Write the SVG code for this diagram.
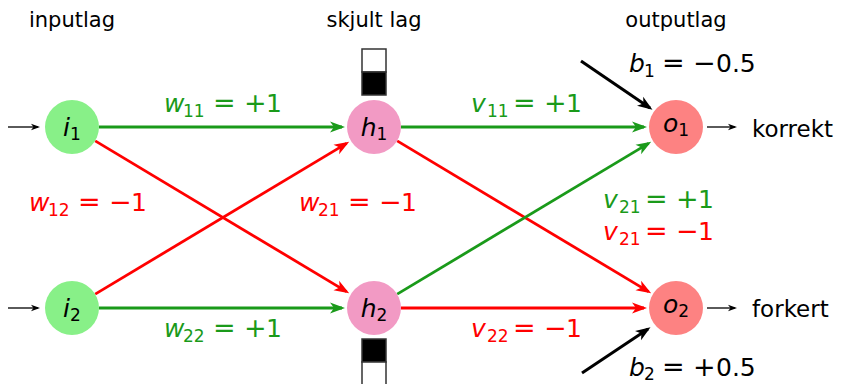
<svg xmlns="http://www.w3.org/2000/svg" width="841" height="384" viewBox="0 0 841 384">
<style>
text{font-family:"DejaVu Sans",sans-serif;fill:#000}
.hdr{font-size:21px}
.out{font-size:23px}
.m{font-size:25px}
.v{font-style:italic}
.s{font-size:17px}
.o{font-size:27px}
.g{fill:#1a9a1a}
.r{fill:#ff0000}
.eg{stroke:#1a9a1a;stroke-width:2.8;fill:none}
.er{stroke:#ff0000;stroke-width:2.8;fill:none}
.eb{stroke:#000;stroke-width:3;fill:none}
.et{stroke:#000;stroke-width:1.3;fill:none}
.in{fill:#88f088}
.hid{fill:#f29ac4}
.op{fill:#fd8282}
</style>
<defs>
<marker id="ag" markerUnits="userSpaceOnUse" markerWidth="16" markerHeight="12" refX="12" refY="6" orient="auto"><path d="M0,0.5 L15,6 L0,11.5 L4,6 z" fill="#1a9a1a"/></marker>
<marker id="ar" markerUnits="userSpaceOnUse" markerWidth="16" markerHeight="12" refX="12" refY="6" orient="auto"><path d="M0,0.5 L15,6 L0,11.5 L4,6 z" fill="#ff0000"/></marker>
<marker id="ab" markerUnits="userSpaceOnUse" markerWidth="16" markerHeight="12" refX="12" refY="6" orient="auto"><path d="M0,0.5 L15,6 L0,11.5 L4,6 z" fill="#000"/></marker>
<marker id="at" markerUnits="userSpaceOnUse" markerWidth="9" markerHeight="8" refX="7" refY="4" orient="auto"><path d="M0,0.8 L9,4 L0,7.2 L2.5,4 z" fill="#000"/></marker>
</defs>

<text class="hdr" x="72" y="27" text-anchor="middle">inputlag</text>
<text class="hdr" x="374" y="27" text-anchor="middle">skjult lag</text>
<text class="hdr" x="676" y="27" text-anchor="middle">outputlag</text>

<g id="connectors">
<path class="et" d="M8,127 H38" marker-end="url(#at)"/>
<path class="et" d="M8,308 H38" marker-end="url(#at)"/>
<path class="et" d="M707,127 H735" marker-end="url(#at)"/>
<path class="et" d="M707,308 H735" marker-end="url(#at)"/>
<path class="eg" d="M99,127 H342" marker-end="url(#ag)"/>
<path class="er" d="M95.2,140.9 L346.6,291.6" marker-end="url(#ar)"/>
<path class="er" d="M95.2,294.1 L346.6,143.4" marker-end="url(#ar)"/>
<path class="eg" d="M99,308 H342" marker-end="url(#ag)"/>
<path class="eg" d="M401,127 H644" marker-end="url(#ag)"/>
<path class="er" d="M397.2,140.9 L648.6,291.6" marker-end="url(#ar)"/>
<path class="eg" d="M397.2,294.1 L648.6,143.4" marker-end="url(#ag)"/>
<path class="er" d="M401,308 H644" marker-end="url(#ar)"/>
<path class="eb" d="M581,61 L650,108" marker-end="url(#ab)"/>
<path class="eb" d="M582,373 L648,329" marker-end="url(#ab)"/>
</g>

<g id="bar1">
<rect x="362" y="49" width="24" height="23" fill="#fff" stroke="#333" stroke-width="1.5"/>
<rect x="362" y="72" width="24" height="23" fill="#000" stroke="#333" stroke-width="1.5"/>
</g>
<g id="bar2">
<rect x="362" y="339" width="24" height="23" fill="#000" stroke="#333" stroke-width="1.5"/>
<rect x="362" y="362" width="24" height="24" fill="#fff" stroke="#333" stroke-width="1.5"/>
</g>

<g id="i1"><circle class="in" cx="72" cy="127" r="27"/><text class="m" x="72" y="136" text-anchor="middle"><tspan class="v">i</tspan><tspan class="s" dy="4">1</tspan></text></g>
<g id="i2"><circle class="in" cx="72" cy="308" r="27"/><text class="m" x="72" y="317" text-anchor="middle"><tspan class="v">i</tspan><tspan class="s" dy="4">2</tspan></text></g>
<g id="h1"><circle class="hid" cx="374" cy="127" r="27"/><text class="m" x="374" y="136" text-anchor="middle"><tspan class="v">h</tspan><tspan class="s" dy="4">1</tspan></text></g>
<g id="h2"><circle class="hid" cx="374" cy="308" r="27"/><text class="m" x="374" y="317" text-anchor="middle"><tspan class="v">h</tspan><tspan class="s" dy="4">2</tspan></text></g>
<g id="o1"><circle class="op" cx="676" cy="127" r="27"/><text class="m" x="676" y="132" text-anchor="middle"><tspan class="v">o</tspan><tspan class="s" dy="4">1</tspan></text></g>
<g id="o2"><circle class="op" cx="676" cy="308" r="27"/><text class="m" x="676" y="313" text-anchor="middle"><tspan class="v">o</tspan><tspan class="s" dy="4">2</tspan></text></g>

<text class="out" x="752" y="137">korrekt</text>
<text class="out" x="752" y="317">forkert</text>

<g id="labels">
<text class="m g" y="112"><tspan class="v" x="164">w</tspan><tspan class="s" x="183" dy="5">11</tspan><tspan class="o" x="213" dy="-5">=</tspan><tspan class="o" x="244">+</tspan><tspan x="266">1</tspan></text>
<text class="m g" y="112"><tspan class="v" x="471">v</tspan><tspan class="s" x="487" dy="5">11</tspan><tspan class="o" x="513" dy="-5">=</tspan><tspan class="o" x="544">+</tspan><tspan x="566">1</tspan></text>
<text class="m r" y="211"><tspan class="v" x="29">w</tspan><tspan class="s" x="48" dy="5">12</tspan><tspan class="o" x="78" dy="-5">=</tspan><tspan class="o" x="109">−</tspan><tspan x="131">1</tspan></text>
<text class="m r" y="211"><tspan class="v" x="299">w</tspan><tspan class="s" x="318" dy="5">21</tspan><tspan class="o" x="348" dy="-5">=</tspan><tspan class="o" x="379">−</tspan><tspan x="401">1</tspan></text>
<text class="m g" y="208"><tspan class="v" x="603">v</tspan><tspan class="s" x="619" dy="5">21</tspan><tspan class="o" x="645" dy="-5">=</tspan><tspan class="o" x="676">+</tspan><tspan x="698">1</tspan></text>
<text class="m r" y="240"><tspan class="v" x="603">v</tspan><tspan class="s" x="619" dy="5">21</tspan><tspan class="o" x="645" dy="-5">=</tspan><tspan class="o" x="676">−</tspan><tspan x="698">1</tspan></text>
<text class="m g" y="337"><tspan class="v" x="164">w</tspan><tspan class="s" x="183" dy="5">22</tspan><tspan class="o" x="213" dy="-5">=</tspan><tspan class="o" x="244">+</tspan><tspan x="266">1</tspan></text>
<text class="m r" y="337"><tspan class="v" x="471">v</tspan><tspan class="s" x="487" dy="5">22</tspan><tspan class="o" x="513" dy="-5">=</tspan><tspan class="o" x="544">−</tspan><tspan x="566">1</tspan></text>
<text class="m" y="72"><tspan class="v" x="629">b</tspan><tspan class="s" x="644" dy="5">1</tspan><tspan class="o" x="662" dy="-5">=</tspan><tspan class="o" x="693">−</tspan><tspan x="716">0.5</tspan></text>
<text class="m" y="376"><tspan class="v" x="629">b</tspan><tspan class="s" x="644" dy="4">2</tspan><tspan class="o" x="662" dy="-4">=</tspan><tspan class="o" x="693">+</tspan><tspan x="716">0.5</tspan></text>
</g>
</svg>
